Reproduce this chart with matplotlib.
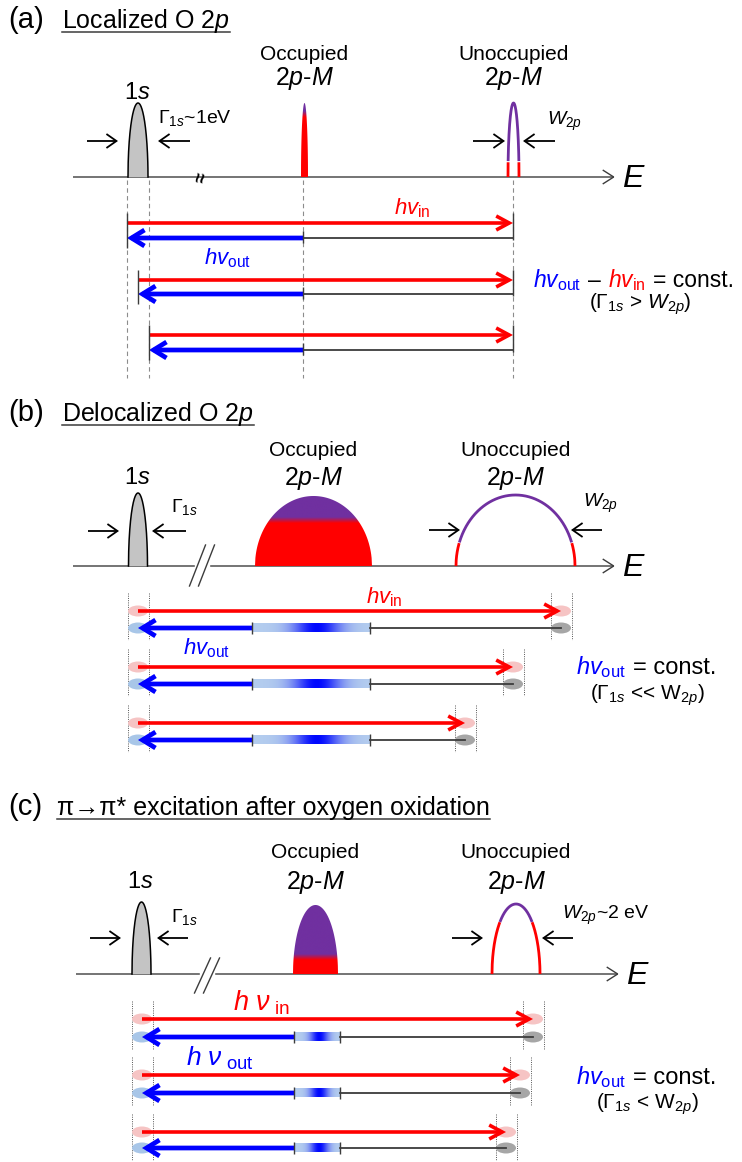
import numpy as np
import matplotlib
matplotlib.use('Agg')
import matplotlib.pyplot as plt
from matplotlib.patches import Polygon, Ellipse, FancyArrowPatch
from matplotlib.colors import to_rgb

plt.rcParams['font.family'] = ['Liberation Sans', 'DejaVu Sans']
plt.rcParams['mathtext.fontset'] = 'custom'
plt.rcParams['mathtext.rm'] = 'Liberation Sans'
plt.rcParams['mathtext.it'] = 'Liberation Sans:italic'
plt.rcParams['mathtext.bf'] = 'Liberation Sans:bold'

# ---------------- data (diagram coordinates) ----------------
panel_labels = ["(a)", "(b)", "(c)"]
panel_titles = ["Localized O 2$p$", "Delocalized O 2$p$",
                "\u03c0\u2192\u03c0* excitation after oxygen oxidation"]
title_y = [20, 413, 807]
axis_y = [177, 566, 974]
axis_x0 = [73, 73, 76]
axis_x1 = [615, 615, 619]

core_x = [138, 138, 141.5]
core_hw = [10, 9.5, 9.5]
core_top = [103, 493, 902]

occ_x = [304.5, 313.5, 315.5]
occ_hw = [3.5, 58.5, 22.5]
occ_top = [103, 496, 905]
occ_split = [114, 520, 957]

unocc_x = [513.5, 515.5, 516]
unocc_hw = [5.5, 59.5, 24]
unocc_top = [103, 495, 904]
unocc_split = [162, 543, 922]

label_occ_y = [55, 450, 853]
label_2p_y = [79, 478, 882]

gamma_labels = [r"$\Gamma_{1s}$~1eV", r"$\Gamma_{1s}$", r"$\Gamma_{1s}$"]
gamma_pos = [(158, 118), (171, 507), (171, 917)]
w_labels = [r"$W_{2p}$", r"$W_{2p}$", r"$W_{2p}$~2 eV"]
w_pos = [(547, 121), (583, 503), (562, 915)]
core_arrow_y = [141, 531, 938]
core_arrow_l = [(87, 118), (88, 119), (90, 121)]
core_arrow_r = [(190, 158), (186, 152), (188, 157)]
w_arrow_y = [141, 530, 938]
w_arrow_l = [(473, 505), (429, 460), (452, 483)]
w_arrow_r = [(555, 523), (602, 571), (573, 542)]

# panel (a) transitions
a_left = [127, 138, 149]
a_right = 513
a_occ = 303
a_red_y = [223, 280, 335]
a_blue_y = [238, 294, 350]
a_guides = [127, 149, 303, 513]

# panel (b) transitions
b_left = 138
b_right = [561, 513, 465]
b_band = (252, 370)
b_red_y = [611, 667, 723]
b_blue_y = [628, 684, 740]

# panel (c) transitions
c_left = 142
c_right = [533, 520, 506]
c_band = (294, 340)
c_red_y = [1019, 1075, 1132]
c_blue_y = [1037, 1093, 1148]

RED = '#ff0000'
BLUE = '#0000ff'
PURPLE = '#7030a0'
GREYFILL = '#c4c4c4'
LINE = '#3c3c3c'

W, H = 742, 1162
fig = plt.figure(figsize=(W / 100, H / 100), dpi=100)
ax = fig.add_axes([0, 0, 1, 1])


def fix():
    ax.set_xlim(0, W)
    ax.set_ylim(H, 0)


fix()
ax.axis('off')
R = fig.canvas.get_renderer()
PT = 0.72  # points per pixel


def arrow(x0, y0, x1, y1, color, lw, hl, hw, z=5):
    p = FancyArrowPatch((x0, y0), (x1, y1),
                        arrowstyle=f'->,head_length={hl * PT},head_width={hw * PT}',
                        mutation_scale=1, lw=lw, color=color, shrinkA=0, shrinkB=0,
                        zorder=z, joinstyle='miter', capstyle='butt')
    ax.add_patch(p)


def dome(xc, hw, top, base, n=300):
    t = np.linspace(-1, 1, n)
    x = xc + hw * t
    y = base - (base - top) * np.sqrt(np.clip(1 - t ** 2, 0, 1))
    return x, y


def two_tone_fill(xc, hw, top, base, split, blend=3):
    x, y = dome(xc, hw, top, base)
    poly = Polygon(np.column_stack([x, y]), closed=True, facecolor='none', edgecolor='none')
    ax.add_patch(poly)
    ys = np.linspace(top, base, 400)
    frac = np.clip((ys - (split - blend)) / (2 * blend), 0, 1)
    cols = (1 - frac)[:, None] * np.array(to_rgb(PURPLE)) + frac[:, None] * np.array(to_rgb(RED))
    img = np.repeat(cols[:, None, :], 2, axis=1)
    im = ax.imshow(img, extent=(xc - hw, xc + hw, base, top), origin='upper',
                   aspect='auto', interpolation='bilinear', zorder=3)
    im.set_clip_path(poly)


def two_tone_outline(xc, hw, top, base, split, lw):
    x, y = dome(xc, hw, top, base, 600)
    up = np.where(y <= split, y, np.nan)
    lo = np.where(y >= split, y, np.nan)
    ax.plot(x, lo, color=RED, lw=lw, zorder=4, solid_capstyle='butt')
    ax.plot(x, up, color=PURPLE, lw=lw, zorder=4, solid_capstyle='butt')


def band(x0, x1, y, h):
    xs = np.linspace(0, 1, 300)
    w = np.exp(-((xs - 0.55) / 0.2) ** 2)
    light = np.array(to_rgb('#b4cdee'))
    deep = np.array(to_rgb('#0008ff'))
    cols = light * (1 - w[:, None]) + deep * w[:, None]
    ax.imshow(cols[None, :, :], extent=(x0, x1, y + h / 2, y - h / 2), origin='upper',
              aspect='auto', interpolation='bilinear', zorder=3)


def rich(x, y, parts, size):
    cur = x
    for s, c, gap in parts:
        t = ax.text(cur, y, s, color=c, fontsize=size, ha='left', va='baseline', zorder=6)
        bb = t.get_window_extent(renderer=R)
        cur += bb.width + gap


def tick(x, y0, y1, lw=1.0, color=LINE):
    ax.plot([x, x], [y0, y1], color=color, lw=lw, zorder=6, solid_capstyle='butt')


# ---------------- common parts of each panel ----------------
for i in range(3):
    ay = axis_y[i]
    fix()
    ax.text(8, title_y[i], panel_labels[i], fontsize=21, ha='left', va='center')
    tt = ax.text(62 if i < 2 else 57, title_y[i] + 1, panel_titles[i], fontsize=18,
                 ha='left', va='center')
    bb = tt.get_window_extent(renderer=R)
    ax.plot([bb.x0, bb.x1], [title_y[i] + 12, title_y[i] + 12], color=LINE, lw=1.1)

    # energy axis
    arrow(axis_x0[i], ay, axis_x1[i], ay, LINE, 1.0, 11, 7, z=2)
    ax.text(axis_x1[i] + 7, ay + 2, "$E$", fontsize=23, ha='left', va='center')

    # 1s core level
    x, y = dome(core_x[i], core_hw[i], core_top[i], ay)
    ax.fill(x, y, color=GREYFILL, zorder=3, lw=0)
    ax.plot(x, y, color='black', lw=1.1, zorder=4)
    ax.text(core_x[i] - 1, label_2p_y[i] + (14 if i == 0 else 0), "1$s$", fontsize=17,
            ha='center', va='center')

    # occupied band
    two_tone_fill(occ_x[i], occ_hw[i], occ_top[i], ay, occ_split[i])
    ax.text(occ_x[i], label_occ_y[i], "Occupied", fontsize=15, ha='center', va='center')
    ax.text(occ_x[i], label_2p_y[i], "2$p$-$M$", fontsize=18, ha='center', va='center')

    # unoccupied band
    two_tone_outline(unocc_x[i], unocc_hw[i], unocc_top[i], ay, unocc_split[i], 2.0)
    ax.text(unocc_x[i], label_occ_y[i], "Unoccupied", fontsize=15, ha='center', va='center')
    ax.text(unocc_x[i], label_2p_y[i], "2$p$-$M$", fontsize=18, ha='center', va='center')

    # widths
    ax.text(*gamma_pos[i], gamma_labels[i], fontsize=14, ha='left', va='center')
    ax.text(*w_pos[i], w_labels[i], fontsize=14, ha='left', va='center')
    arrow(core_arrow_l[i][0], core_arrow_y[i], core_arrow_l[i][1], core_arrow_y[i], 'black', 1.3, 10, 7)
    arrow(core_arrow_r[i][0], core_arrow_y[i], core_arrow_r[i][1], core_arrow_y[i], 'black', 1.3, 10, 7)
    arrow(w_arrow_l[i][0], w_arrow_y[i], w_arrow_l[i][1], w_arrow_y[i], 'black', 1.3, 10, 7)
    arrow(w_arrow_r[i][0], w_arrow_y[i], w_arrow_r[i][1], w_arrow_y[i], 'black', 1.3, 10, 7)

# axis breaks
ax.text(202, axis_y[0] + 1, "\u2248", fontsize=13, rotation=80, ha='center', va='center',
        fontweight='bold', zorder=6)
for i, (yt, yb) in zip([1, 2], [(545, 586), (958, 993)]):
    xc = 202 if i == 1 else 207
    ay = axis_y[i]
    ax.fill_between([xc - 7, xc + 7], ay - 3, ay + 3, color='white', zorder=2.5)
    for dx in (-4.5, 4.5):
        ax.plot([xc + dx + 8, xc + dx - 8], [yt, yb], color=LINE, lw=1.0, zorder=6)

# ---------------- panel (a) transitions ----------------
for gx in a_guides:
    ax.plot([gx, gx], [axis_y[0] + 3, 378], color='#8c8c8c', lw=0.8, ls=(0, (4, 3)), zorder=1)
for k in range(3):
    ry, by, lx = a_red_y[k], a_blue_y[k], a_left[k]
    ax.plot([a_occ, a_right], [by, by], color=LINE, lw=1.3, zorder=4)
    arrow(lx, ry, a_right, ry, RED, 2.6, 13, 7)
    arrow(a_occ, by, lx, by, BLUE, 3.4, 13, 8)
    tick(lx, ry - 10, by + 10)
    tick(a_occ, by - 7, by + 5)
    tick(a_right, ry - 10, by + 2)
ax.text(412, 208, r"$hv_{\mathrm{in}}$", color=RED, fontsize=16, ha='center', va='center')
ax.text(228, 258, r"$hv_{\mathrm{out}}$", color=BLUE, fontsize=16, ha='center', va='center')
rich(533, 287, [(r"$hv_{\mathrm{out}}$", BLUE, 7), ("\u2013", 'black', 7),
                (r"$hv_{\mathrm{in}}$", RED, 7), ("= const.", 'black', 0)], 16.5)
ax.text(640, 304, r"($\Gamma_{1s}$ > $W_{2p}$)", fontsize=15, ha='center', va='center')


# ---------------- panels (b) and (c) transitions ----------------
def rows(left, rights, red_ys, blue_ys, band_x, band_h):
    for k in range(3):
        ry, by, rx = red_ys[k], blue_ys[k], rights[k]
        for gx in (left - 10.5, left + 10.5, rx - 10.5, rx + 10.5):
            ax.plot([gx, gx], [ry - 18, by + 12], color='#555555', lw=0.7,
                    ls=(0, (1, 1.3)), zorder=1)
        ax.add_patch(Ellipse((left, ry), 20, 11, color='#f6c4c4', zorder=2, lw=0))
        ax.add_patch(Ellipse((rx, ry), 20, 11, color='#f6c4c4', zorder=2, lw=0))
        ax.add_patch(Ellipse((left, by), 20, 11, color='#a8c6e8', zorder=2, lw=0))
        ax.add_patch(Ellipse((rx, by), 20, 11, color='#a6a6a6', zorder=2, lw=0))
        ax.plot([band_x[1], rx], [by, by], color=LINE, lw=1.3, zorder=4)
        band(band_x[0], band_x[1], by, band_h)
        arrow(left, ry, rx, ry, RED, 2.6, 13, 7)
        arrow(band_x[0], by, left, by, BLUE, 3.4, 13, 8)
        tick(band_x[0], by - 6, by + 6)
        tick(band_x[1], by - 6, by + 6)


rows(b_left, b_right, b_red_y, b_blue_y, b_band, 9)
ax.text(384, 597, r"$hv_{\mathrm{in}}$", color=RED, fontsize=16, ha='center', va='center')
ax.text(207, 648, r"$hv_{\mathrm{out}}$", color=BLUE, fontsize=16, ha='center', va='center')
rich(576, 674, [(r"$hv_{\mathrm{out}}$", BLUE, 7), ("= const.", 'black', 0)], 17)
ax.text(647, 695, r"($\Gamma_{1s}$ << W$_{2p}$)", fontsize=15, ha='center', va='center')

rows(c_left, c_right, c_red_y, c_blue_y, c_band, 9)
ax.text(233, 1003, r"$h\ \nu_{\ \mathrm{in}}$", color=RED, fontsize=19.5, ha='left', va='center')
ax.text(186, 1058, r"$h\ \nu_{\ \mathrm{out}}$", color=BLUE, fontsize=19, ha='left', va='center')
rich(576, 1084, [(r"$hv_{\mathrm{out}}$", BLUE, 7), ("= const.", 'black', 0)], 17)
ax.text(647, 1104, r"($\Gamma_{1s}$ < W$_{2p}$)", fontsize=15, ha='center', va='center')

fix()
fig.savefig('out.png', dpi=100, facecolor='white')
